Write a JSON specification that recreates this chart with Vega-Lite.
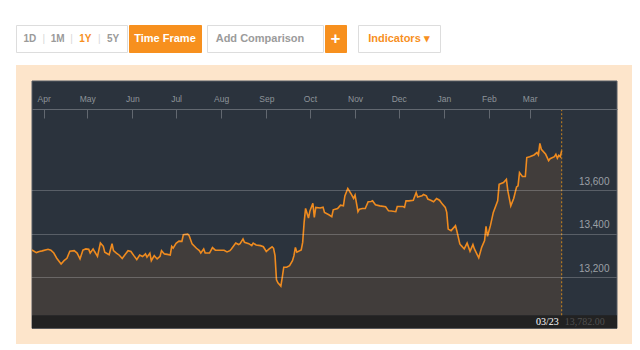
{
  "$schema": "https://vega.github.io/schema/vega-lite/v6.json",
  "background": "#ffffff",
  "padding": {"left": 15, "top": 24, "right": 4, "bottom": 4},
  "spacing": 12,
  "config": {"font": "Liberation Sans", "view": {"stroke": null}},
  "datasets": {
    "prices": [
      {"date":"2014-03-24","close":13325},{"date":"2014-03-27","close":13313},{"date":"2014-03-29","close":13318},{"date":"2014-03-31","close":13321},
      {"date":"2014-04-04","close":13328},{"date":"2014-04-06","close":13324},{"date":"2014-04-08","close":13311},{"date":"2014-04-10","close":13287},
      {"date":"2014-04-13","close":13261},{"date":"2014-04-15","close":13276},{"date":"2014-04-17","close":13287},{"date":"2014-04-19","close":13319},
      {"date":"2014-04-22","close":13322},{"date":"2014-04-24","close":13311},{"date":"2014-04-26","close":13284},{"date":"2014-04-28","close":13325},
      {"date":"2014-04-30","close":13330},{"date":"2014-05-02","close":13328},{"date":"2014-05-03","close":13311},{"date":"2014-05-05","close":13330},
      {"date":"2014-05-06","close":13318},{"date":"2014-05-08","close":13296},{"date":"2014-05-10","close":13357},{"date":"2014-05-12","close":13342},
      {"date":"2014-05-13","close":13315},{"date":"2014-05-16","close":13303},{"date":"2014-05-18","close":13354},{"date":"2014-05-19","close":13322},
      {"date":"2014-05-21","close":13311},{"date":"2014-05-23","close":13301},{"date":"2014-05-25","close":13286},{"date":"2014-05-27","close":13304},
      {"date":"2014-05-29","close":13322},{"date":"2014-05-31","close":13318},{"date":"2014-06-02","close":13299},{"date":"2014-06-04","close":13281},
      {"date":"2014-06-06","close":13302},{"date":"2014-06-08","close":13295},{"date":"2014-06-10","close":13307},{"date":"2014-06-11","close":13292},
      {"date":"2014-06-13","close":13310},{"date":"2014-06-14","close":13276},{"date":"2014-06-16","close":13299},{"date":"2014-06-18","close":13284},
      {"date":"2014-06-20","close":13296},{"date":"2014-06-21","close":13322},{"date":"2014-06-23","close":13307},{"date":"2014-06-25","close":13305},
      {"date":"2014-06-27","close":13302},{"date":"2014-06-28","close":13342},{"date":"2014-06-29","close":13334},{"date":"2014-07-01","close":13356},
      {"date":"2014-07-03","close":13366},{"date":"2014-07-05","close":13365},{"date":"2014-07-06","close":13395},{"date":"2014-07-09","close":13398},
      {"date":"2014-07-10","close":13391},{"date":"2014-07-12","close":13353},{"date":"2014-07-15","close":13333},{"date":"2014-07-17","close":13322},
      {"date":"2014-07-18","close":13311},{"date":"2014-07-20","close":13330},{"date":"2014-07-21","close":13311},{"date":"2014-07-24","close":13311},
      {"date":"2014-07-26","close":13336},{"date":"2014-07-28","close":13324},{"date":"2014-07-31","close":13324},{"date":"2014-08-03","close":13324},
      {"date":"2014-08-05","close":13316},{"date":"2014-08-07","close":13322},{"date":"2014-08-08","close":13330},{"date":"2014-08-11","close":13357},
      {"date":"2014-08-13","close":13350},{"date":"2014-08-14","close":13354},{"date":"2014-08-16","close":13376},{"date":"2014-08-17","close":13360},
      {"date":"2014-08-20","close":13354},{"date":"2014-08-22","close":13345},{"date":"2014-08-23","close":13357},{"date":"2014-08-25","close":13348},
      {"date":"2014-08-28","close":13345},{"date":"2014-08-30","close":13340},{"date":"2014-09-01","close":13318},{"date":"2014-09-03","close":13330},
      {"date":"2014-09-05","close":13340},{"date":"2014-09-06","close":13333},{"date":"2014-09-07","close":13299},{"date":"2014-09-08","close":13188},
      {"date":"2014-09-09","close":13174},{"date":"2014-09-11","close":13159},{"date":"2014-09-12","close":13200},{"date":"2014-09-13","close":13246},
      {"date":"2014-09-15","close":13246},{"date":"2014-09-17","close":13253},{"date":"2014-09-19","close":13276},{"date":"2014-09-20","close":13299},
      {"date":"2014-09-21","close":13337},{"date":"2014-09-22","close":13315},{"date":"2014-09-25","close":13325},{"date":"2014-09-26","close":13360},
      {"date":"2014-09-27","close":13452},{"date":"2014-09-28","close":13516},{"date":"2014-09-30","close":13472},{"date":"2014-10-01","close":13505},
      {"date":"2014-10-03","close":13540},{"date":"2014-10-04","close":13475},{"date":"2014-10-05","close":13521},{"date":"2014-10-08","close":13518},
      {"date":"2014-10-10","close":13522},{"date":"2014-10-11","close":13498},{"date":"2014-10-14","close":13487},{"date":"2014-10-16","close":13478},
      {"date":"2014-10-17","close":13510},{"date":"2014-10-20","close":13516},{"date":"2014-10-22","close":13531},{"date":"2014-10-24","close":13528},
      {"date":"2014-10-25","close":13574},{"date":"2014-10-27","close":13608},{"date":"2014-10-29","close":13586},{"date":"2014-10-31","close":13562},
      {"date":"2014-11-01","close":13577},{"date":"2014-11-03","close":13501},{"date":"2014-11-04","close":13513},{"date":"2014-11-06","close":13516},
      {"date":"2014-11-08","close":13516},{"date":"2014-11-10","close":13547},{"date":"2014-11-12","close":13548},{"date":"2014-11-13","close":13551},
      {"date":"2014-11-15","close":13533},{"date":"2014-11-18","close":13528},{"date":"2014-11-22","close":13524},{"date":"2014-11-24","close":13505},
      {"date":"2014-11-26","close":13504},{"date":"2014-11-29","close":13501},{"date":"2014-11-30","close":13525},{"date":"2014-12-04","close":13525},
      {"date":"2014-12-05","close":13521},{"date":"2014-12-06","close":13551},{"date":"2014-12-08","close":13551},{"date":"2014-12-11","close":13554},
      {"date":"2014-12-13","close":13589},{"date":"2014-12-14","close":13569},{"date":"2014-12-17","close":13574},{"date":"2014-12-18","close":13580},
      {"date":"2014-12-20","close":13574},{"date":"2014-12-21","close":13559},{"date":"2014-12-23","close":13554},{"date":"2014-12-25","close":13547},
      {"date":"2014-12-27","close":13562},{"date":"2014-12-29","close":13554},{"date":"2014-12-31","close":13536},{"date":"2015-01-02","close":13521},
      {"date":"2015-01-03","close":13498},{"date":"2015-01-04","close":13421},{"date":"2015-01-06","close":13414},{"date":"2015-01-09","close":13437},
      {"date":"2015-01-10","close":13411},{"date":"2015-01-12","close":13353},{"date":"2015-01-13","close":13345},{"date":"2015-01-15","close":13330},
      {"date":"2015-01-17","close":13357},{"date":"2015-01-19","close":13319},{"date":"2015-01-21","close":13350},{"date":"2015-01-22","close":13330},
      {"date":"2015-01-25","close":13289},{"date":"2015-01-27","close":13337},{"date":"2015-01-29","close":13368},{"date":"2015-01-30","close":13434},
      {"date":"2015-01-31","close":13388},{"date":"2015-02-02","close":13437},{"date":"2015-02-04","close":13498},{"date":"2015-02-07","close":13551},
      {"date":"2015-02-08","close":13627},{"date":"2015-02-11","close":13635},{"date":"2015-02-13","close":13650},{"date":"2015-02-14","close":13597},
      {"date":"2015-02-16","close":13528},{"date":"2015-02-18","close":13562},{"date":"2015-02-20","close":13615},{"date":"2015-02-21","close":13620},
      {"date":"2015-02-22","close":13681},{"date":"2015-02-24","close":13663},{"date":"2015-02-26","close":13663},{"date":"2015-02-27","close":13750},
      {"date":"2015-03-01","close":13754},{"date":"2015-03-04","close":13762},{"date":"2015-03-06","close":13773},{"date":"2015-03-07","close":13762},
      {"date":"2015-03-08","close":13815},{"date":"2015-03-09","close":13788},{"date":"2015-03-12","close":13765},{"date":"2015-03-14","close":13736},
      {"date":"2015-03-15","close":13745},{"date":"2015-03-18","close":13754},{"date":"2015-03-19","close":13765},{"date":"2015-03-20","close":13747},
      {"date":"2015-03-21","close":13760},{"date":"2015-03-22","close":13754},{"date":"2015-03-23","close":13782}
    ]
  },
  "vconcat": [
    {
      "spacing": 4,
      "hconcat": [
        {
          "spacing": 0,
          "hconcat": [
            {
              "width": 111, "height": 27,
              "view": {"fill": "#ffffff", "stroke": "#dddddd"},
              "data": {"values": [{"label": "1D"}, {"label": "1M"}, {"label": "1Y"}, {"label": "5Y"}]},
              "layer": [
                {
                  "mark": {"type": "text", "font": "Liberation Sans", "fontSize": 10, "fontWeight": "bold"},
                  "encoding": {
                    "x": {"field": "label", "type": "nominal", "axis": null, "bandPosition": 0.5,
                          "scale": {"type": "band", "domain": ["1D", "1M", "1Y", "5Y"], "paddingInner": 0, "paddingOuter": 0}},
                    "text": {"field": "label"},
                    "color": {"condition": {"test": "datum.label === '1Y'", "value": "#f7901e"}, "value": "#9a9a9a"}
                  }
                },
                {
                  "transform": [{"filter": "datum.label !== '1D'"}],
                  "mark": {"type": "text", "text": "|", "font": "Liberation Sans", "fontSize": 10, "color": "#d8d8d8"},
                  "encoding": {
                    "x": {"field": "label", "type": "nominal", "axis": null, "bandPosition": 0,
                          "scale": {"type": "band", "domain": ["1D", "1M", "1Y", "5Y"], "paddingInner": 0, "paddingOuter": 0}}
                  }
                }
              ]
            },
            {
              "width": 72, "height": 27,
              "view": {"fill": "#f7901e", "stroke": "#f7901e"},
              "data": {"values": [{"label": "Time Frame"}]},
              "mark": {"type": "text", "font": "Liberation Sans", "fontSize": 11, "fontWeight": "bold", "color": "#ffffff"},
              "encoding": {"text": {"field": "label"}}
            }
          ]
        },
        {
          "spacing": 10,
          "hconcat": [
            {
              "spacing": 0,
              "hconcat": [
                {
                  "width": 116, "height": 27,
                  "view": {"fill": "#ffffff", "stroke": "#dddddd"},
                  "data": {"values": [{"label": "Add Comparison"}]},
                  "mark": {"type": "text", "font": "Liberation Sans", "fontSize": 11, "fontWeight": "bold", "color": "#9b9b9b", "dx": -5},
                  "encoding": {"text": {"field": "label"}}
                },
                {
                  "width": 21, "height": 27,
                  "view": {"fill": "#f7901e", "stroke": "#f7901e"},
                  "data": {"values": [{"label": "+"}]},
                  "mark": {"type": "text", "font": "Liberation Sans", "fontSize": 17, "fontWeight": "bold", "color": "#ffffff"},
                  "encoding": {"text": {"field": "label"}}
                }
              ]
            },
            {
              "width": 82, "height": 27,
              "view": {"fill": "#ffffff", "stroke": "#dddddd"},
              "data": {"values": [{"label": "Indicators  ▾"}]},
              "mark": {"type": "text", "font": "Liberation Sans", "fontSize": 11, "fontWeight": "bold", "color": "#f7901e"},
              "encoding": {"text": {"field": "label"}}
            }
          ]
        }
      ]
    },
    {
      "width": 616,
      "height": 279,
      "view": {"fill": "#fde5cb", "stroke": null},
      "data": {"name": "prices"},
      "resolve": {"axis": {"x": "independent", "y": "independent"}},
      "layer": [
        {
          "transform": [{"filter": {"field": "date", "equal": {"year": 2015, "month": 3, "date": 23, "utc": true}}}],
          "mark": {"type": "rect", "color": "#2b333d", "stroke": "#565c64", "strokeWidth": 1},
          "encoding": {
            "x": {"datum": {"year": 2014, "month": 3, "date": 24, "utc": true}, "type": "temporal",
                  "scale": {"type": "utc", "range": [16, 601], "domain": [{"year": 2014, "month": 3, "date": 24, "utc": true}, {"year": 2015, "month": 4, "date": 30, "utc": true}]},
                  "axis": null},
            "x2": {"datum": {"year": 2015, "month": 4, "date": 30, "utc": true}},
            "y": {"datum": 14102, "type": "quantitative",
                  "scale": {"domain": [12965, 14102], "range": [263.3, 16], "nice": false, "zero": false}, "axis": null},
            "y2": {"datum": 12965}
          }
        },
        {
          "transform": [{"filter": {"field": "date", "equal": {"year": 2015, "month": 3, "date": 23, "utc": true}}}],
          "mark": {"type": "rect", "color": "#222222"},
          "encoding": {
            "x": {"datum": {"year": 2014, "month": 3, "date": 24, "utc": true}, "type": "temporal",
                  "scale": {"type": "utc", "range": [16, 601], "domain": [{"year": 2014, "month": 3, "date": 24, "utc": true}, {"year": 2015, "month": 4, "date": 30, "utc": true}]},
                  "axis": null},
            "x2": {"datum": {"year": 2015, "month": 4, "date": 30, "utc": true}},
            "y": {"datum": 13025, "type": "quantitative",
                  "scale": {"domain": [12965, 14102], "range": [263.3, 16], "nice": false, "zero": false}, "axis": null},
            "y2": {"datum": 12965}
          }
        },
        {
          "mark": {"type": "area", "color": "#4b423b", "line": {"color": "#ef8b1f", "strokeWidth": 1.6}},
          "encoding": {
            "x": {"field": "date", "type": "temporal",
                  "scale": {"type": "utc", "range": [16, 601], "domain": [{"year": 2014, "month": 3, "date": 24, "utc": true}, {"year": 2015, "month": 4, "date": 30, "utc": true}]},
                  "axis": {"orient": "top", "offset": -44, "format": "%b", "title": null, "grid": false,
                           "values": [
                             {"year": 2014, "month": 4, "date": 1, "utc": true}, {"year": 2014, "month": 5, "date": 1, "utc": true},
                             {"year": 2014, "month": 6, "date": 1, "utc": true}, {"year": 2014, "month": 7, "date": 1, "utc": true},
                             {"year": 2014, "month": 8, "date": 1, "utc": true}, {"year": 2014, "month": 9, "date": 1, "utc": true},
                             {"year": 2014, "month": 10, "date": 1, "utc": true}, {"year": 2014, "month": 11, "date": 1, "utc": true},
                             {"year": 2014, "month": 12, "date": 1, "utc": true}, {"year": 2015, "month": 1, "date": 1, "utc": true},
                             {"year": 2015, "month": 2, "date": 1, "utc": true}, {"year": 2015, "month": 3, "date": 1, "utc": true}
                           ],
                           "domain": true, "domainColor": "#626870", "domainWidth": 1,
                           "ticks": true, "tickSize": -9, "tickColor": "#626870", "tickWidth": 1,
                           "labelPadding": 15, "labelColor": "#8e939a", "labelFontSize": 8.5, "labelFont": "Liberation Sans",
                           "labelFlush": false, "labelOverlap": false, "zindex": 1}},
            "y": {"field": "close", "type": "quantitative",
                  "scale": {"domain": [12965, 14102], "range": [263.3, 16], "nice": false, "zero": false},
                  "axis": {"orient": "right", "domain": false,
                           "values": [13200, 13400, 13600], "labelExpr": "format(datum.value, ',')", "title": null,
                           "ticks": false, "tickSize": 0, "labelAlign": "right", "labelPadding": -23,
                           "labelBaseline": "alphabetic", "labelOffset": -6, "labelColor": "#9ba0a6", "labelFontSize": 10,
                           "labelFont": "Liberation Sans", "labelFlush": false,
                           "grid": true, "gridColor": "#ffffff", "gridOpacity": 0.22, "gridWidth": 1, "zindex": 1}},
            "y2": {"datum": 13025}
          }
        },
        {
          "transform": [{"filter": {"field": "date", "equal": {"year": 2015, "month": 3, "date": 23, "utc": true}}}],
          "mark": {"type": "rule", "color": "#c98420", "strokeDash": [2, 2], "strokeWidth": 1},
          "encoding": {
            "x": {"field": "date", "type": "temporal",
                  "scale": {"type": "utc", "range": [16, 601], "domain": [{"year": 2014, "month": 3, "date": 24, "utc": true}, {"year": 2015, "month": 4, "date": 30, "utc": true}]},
                  "axis": null},
            "y": {"datum": 13025, "type": "quantitative",
                  "scale": {"domain": [12965, 14102], "range": [263.3, 16], "nice": false, "zero": false}, "axis": null},
            "y2": {"datum": 13973}
          }
        },
        {
          "transform": [{"filter": {"field": "date", "equal": {"year": 2015, "month": 3, "date": 23, "utc": true}}}],
          "mark": {"type": "text", "font": "Liberation Serif", "fontSize": 10, "color": "#ffffff", "align": "right", "baseline": "middle", "dx": -3},
          "encoding": {
            "x": {"field": "date", "type": "temporal",
                  "scale": {"type": "utc", "range": [16, 601], "domain": [{"year": 2014, "month": 3, "date": 24, "utc": true}, {"year": 2015, "month": 4, "date": 30, "utc": true}]},
                  "axis": null},
            "y": {"datum": 12993, "type": "quantitative",
                  "scale": {"domain": [12965, 14102], "range": [263.3, 16], "nice": false, "zero": false}, "axis": null},
            "text": {"field": "date", "type": "temporal", "timeUnit": "utcmonthdate", "format": "%m/%d"}
          }
        },
        {
          "transform": [{"filter": {"field": "date", "equal": {"year": 2015, "month": 3, "date": 23, "utc": true}}}],
          "mark": {"type": "text", "font": "Liberation Serif", "fontSize": 10, "color": "#505050", "align": "left", "baseline": "middle", "dx": 3},
          "encoding": {
            "x": {"field": "date", "type": "temporal",
                  "scale": {"type": "utc", "range": [16, 601], "domain": [{"year": 2014, "month": 3, "date": 24, "utc": true}, {"year": 2015, "month": 4, "date": 30, "utc": true}]},
                  "axis": null},
            "y": {"datum": 12993, "type": "quantitative",
                  "scale": {"domain": [12965, 14102], "range": [263.3, 16], "nice": false, "zero": false}, "axis": null},
            "text": {"field": "close", "type": "quantitative", "format": ",.2f"}
          }
        }
      ]
    }
  ]
}
